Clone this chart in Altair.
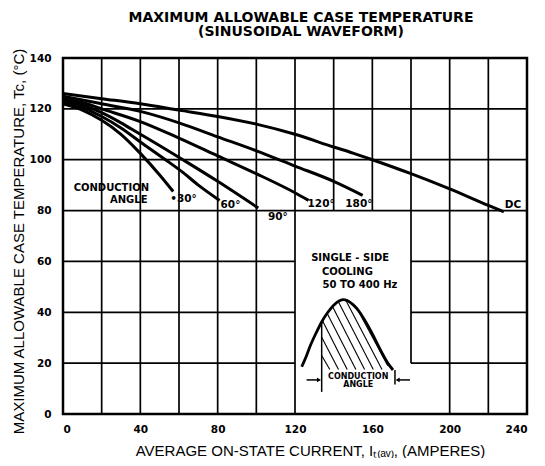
import altair as alt
import pandas as pd

# ---- curve data ----
x_30 = [0, 10, 20, 30, 40, 50, 57]
t_30 = [122, 119.5, 115.5, 110, 102.5, 94, 87.5]
x_60 = [0, 10, 20, 30, 40, 53, 62, 70, 81]
t_60 = [122.5, 120.5, 117, 112.5, 107, 100, 95, 90, 84]
x_90 = [0, 10, 20, 30, 40, 49, 62, 80, 101]
t_90 = [123.5, 121.5, 118.5, 114.5, 110, 106, 100, 91.5, 81]
x_120 = [0, 10, 20, 40, 60, 80, 100, 120, 127]
t_120 = [124, 122.5, 120, 115, 108.5, 101.5, 94.5, 87, 84]
x_180 = [0, 20, 40, 60, 80, 100, 120, 140, 155]
t_180 = [125, 122, 119, 114.5, 109, 103.5, 97.5, 91.5, 86]
x_dc = [0, 20, 40, 60, 80, 100, 120, 140, 150, 160, 180, 200, 220, 228]
t_dc = [126, 124, 122, 119.5, 117, 114, 110, 105, 102.6, 100, 94.5, 88.5, 82, 79.5]

series = {"30": (x_30, t_30), "60": (x_60, t_60), "90": (x_90, t_90),
          "120": (x_120, t_120), "180": (x_180, t_180), "DC": (x_dc, t_dc)}
rows = []
for k, (xs_, ts_) in series.items():
    for a, b in zip(xs_, ts_):
        rows.append({"angle": k, "x": a, "t": b})
curves_df = pd.DataFrame(rows)

# ---- curve labels ----
lab_text = ["•30°", "60°", "90°", "120°", "180°", "DC"]
lab_x = [55.5, 81.5, 106, 126.5, 146, 228.5]
lab_t = [84.5, 82, 77.5, 82.5, 82.5, 82]
labels_df = pd.DataFrame({"text": lab_text, "x": lab_x, "t": lab_t})

cond_text = ["CONDUCTION", "ANGLE"]
cond_x = [25, 34]
cond_t = [88.8, 84]
cond_df = pd.DataFrame({"text": cond_text, "x": cond_x, "t": cond_t})

# ---- grid segments ----
vg_x = [20, 40, 60, 80, 100, 120, 140, 160, 180, 200, 220]
vg_y0 = [0, 0, 0, 0, 0, 0, 80, 80, 20, 0, 0]
vg_y1 = [140] * 11
hg_y = [20, 20, 40, 40, 60, 60, 80, 100, 120]
hg_x0 = [0, 180, 0, 180, 0, 180, 0, 0, 0]
hg_x1 = [120, 240, 120, 240, 120, 240, 240, 240, 240]
vgrid_df = pd.DataFrame({"x": vg_x, "y0": vg_y0, "y1": vg_y1})
hgrid_df = pd.DataFrame({"y": hg_y, "x0": hg_x0, "x1": hg_x1})

# ---- inset sketch ----
sine_x = [123.5, 126, 128, 131, 134, 137, 140, 143, 145, 147, 150, 153, 156, 159, 162, 165, 168, 170.7]
sine_t = [18.6, 23, 27, 32, 36.5, 40, 42.8, 44.5, 45, 44.6, 43, 40.5, 37, 33, 28.5, 24, 20, 17.3]
sine_df = pd.DataFrame({"x": sine_x, "t": sine_t})

hatch_x1 = [133.8, 133.8, 134.3, 136.6, 139.4, 142.3, 146.2, 152.2]
hatch_t1 = [23.0, 30.2, 36.6, 39.6, 42.3, 44.3, 44.8, 41.3]
hatch_x2 = [138, 142.5, 147, 151.5, 156, 160.5, 165, 168]
hatch_t2 = [17.5, 17.5, 17.5, 17.5, 17.5, 17.5, 17.5, 19]
hatch_df = pd.DataFrame({"x": hatch_x1, "t": hatch_t1, "x2": hatch_x2, "t2": hatch_t2})

seg_x1 = [133.8, 171.7, 126, 172.8]
seg_t1 = [8.7, 11.6, 13.4, 13.4]
seg_x2 = [133.8, 171.7, 132.5, 179.5]
seg_t2 = [36.3, 17.3, 13.4, 13.4]
seg_df = pd.DataFrame({"x": seg_x1, "t": seg_t1, "x2": seg_x2, "t2": seg_t2})

arrow_x = [132.4, 173.1]
arrow_t = [13.4, 13.4]
arrow_shape = ["triangle-right", "triangle-left"]
arrow_df = pd.DataFrame({"x": arrow_x, "t": arrow_t, "shape": arrow_shape})

inset_text = ["SINGLE - SIDE", "COOLING", "50 TO 400 Hz"]
inset_x = [148.5, 147.1, 153.6]
inset_t = [61.3, 56, 50.7]
inset_df = pd.DataFrame({"text": inset_text, "x": inset_x, "t": inset_t})

small_text = ["CONDUCTION", "ANGLE"]
small_x = [152.7, 152.7]
small_t = [14.7, 11.3]
small_df = pd.DataFrame({"text": small_text, "x": small_x, "t": small_t})

x_ticks = list(range(0, 241, 20))
y_ticks = list(range(0, 141, 20))

FONT = "Liberation Sans"
BOLD = "DejaVu Sans"

xs = alt.Scale(domain=[0, 240], nice=False, zero=False)
ys = alt.Scale(domain=[0, 140], nice=False, zero=False)

x_axis = alt.Axis(values=x_ticks, grid=False, ticks=False, domain=False,
                  labelFont=BOLD, labelFontWeight="bold", labelFontSize=10.5,
                  labelColor="black", labelPadding=10,
                  title="AVERAGE ON-STATE CURRENT, Iₜ₍ₐᵥ₎, (AMPERES)",
                  titleFont=FONT, titleFontWeight="normal", titleFontSize=15,
                  titleColor="black", titleX=247, titleY=41,
                  titleAlign="center", titleBaseline="alphabetic")
y_axis = alt.Axis(values=y_ticks, grid=False, ticks=False, domain=False,
                  labelFont=BOLD, labelFontWeight="bold", labelFontSize=10.5,
                  labelColor="black", labelPadding=12,
                  title="MAXIMUM ALLOWABLE CASE TEMPERATURE, Tc, (°C)",
                  titleFont=FONT, titleFontWeight="normal", titleFontSize=15,
                  titleColor="black", titleX=-45, titleY=183, titleAngle=270,
                  titleAlign="center", titleBaseline="middle")

base_v = alt.Chart(vgrid_df).mark_rule(color="black", strokeWidth=1.7).encode(
    x=alt.X("x:Q", scale=xs, axis=x_axis),
    y=alt.Y("y0:Q", scale=ys, axis=y_axis),
    y2="y1:Q",
)
base_h = alt.Chart(hgrid_df).mark_rule(color="black", strokeWidth=1.7).encode(
    x=alt.X("x0:Q", scale=xs), x2="x1:Q", y=alt.Y("y:Q", scale=ys))

curves = alt.Chart(curves_df).mark_line(color="black", strokeWidth=3, interpolate="monotone").encode(
    x=alt.X("x:Q", scale=xs), y=alt.Y("t:Q", scale=ys), detail="angle:N")

labels = alt.Chart(labels_df).mark_text(font=BOLD, fontWeight="bold", fontSize=10.5,
                                        color="black", baseline="middle", align="left").encode(
    x=alt.X("x:Q", scale=xs), y=alt.Y("t:Q", scale=ys), text="text:N")
cond = alt.Chart(cond_df).mark_text(font=BOLD, fontWeight="bold", fontSize=10,
                                    color="black", baseline="middle", align="center").encode(
    x=alt.X("x:Q", scale=xs), y=alt.Y("t:Q", scale=ys), text="text:N")

sine = alt.Chart(sine_df).mark_line(color="black", strokeWidth=2.8, interpolate="monotone").encode(
    x=alt.X("x:Q", scale=xs), y=alt.Y("t:Q", scale=ys))
hatch = alt.Chart(hatch_df).mark_rule(color="black", strokeWidth=1.1).encode(
    x=alt.X("x:Q", scale=xs), y=alt.Y("t:Q", scale=ys), x2="x2:Q", y2="t2:Q")
segs = alt.Chart(seg_df).mark_rule(color="black", strokeWidth=1.5).encode(
    x=alt.X("x:Q", scale=xs), y=alt.Y("t:Q", scale=ys), x2="x2:Q", y2="t2:Q")
arrows = alt.Chart(arrow_df).mark_point(filled=True, color="black", size=22, opacity=1).encode(
    x=alt.X("x:Q", scale=xs), y=alt.Y("t:Q", scale=ys),
    shape=alt.Shape("shape:N", scale=None))
inset_lab = alt.Chart(inset_df).mark_text(font=BOLD, fontWeight="bold", fontSize=10,
                                          color="black").encode(
    x=alt.X("x:Q", scale=xs), y=alt.Y("t:Q", scale=ys), text="text:N")
small_lab = alt.Chart(small_df).mark_text(font=BOLD, fontWeight="bold", fontSize=8,
                                          color="black").encode(
    x=alt.X("x:Q", scale=xs), y=alt.Y("t:Q", scale=ys), text="text:N")

chart = alt.layer(base_v, base_h, curves, labels, cond, sine, hatch, segs, arrows,
                  inset_lab, small_lab).properties(
    width=464, height=356,
    background="white",
    autosize=alt.AutoSizeParams(type="none"),
    padding={"left": 55, "top": 50, "right": 10, "bottom": 44},
    title=alt.TitleParams(["MAXIMUM ALLOWABLE CASE TEMPERATURE", "(SINUSOIDAL WAVEFORM)"],
                          font=BOLD, fontSize=14, fontWeight="bold", color="black",
                          anchor="middle", dx=6, offset=9, lineHeight=14),
).configure_view(stroke="black", strokeWidth=2.5)

chart.save("out.html", embed_options={"renderer": "svg", "actions": False})
